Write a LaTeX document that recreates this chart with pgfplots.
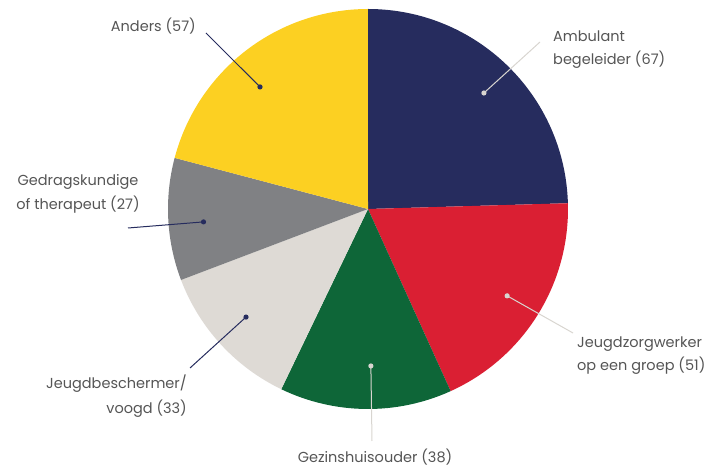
\documentclass[border=0pt]{standalone}
\usepackage{pgfplots}
\pgfplotsset{compat=1.18}
\usepackage{pgfplotstable}
\usepackage{fontspec}
\setmainfont{Poppins}
\definecolor{c0}{HTML}{262C5E}
\definecolor{c1}{HTML}{DA1F33}
\definecolor{c2}{HTML}{0E6638}
\definecolor{c3}{HTML}{DEDAD5}
\definecolor{c4}{HTML}{808184}
\definecolor{c5}{HTML}{FCD022}
\definecolor{txt}{HTML}{555555}
\definecolor{lightln}{HTML}{D8D5D0}
\definecolor{darkln}{HTML}{262C5E}

\pgfplotstableread{
idx value
0 67
1 51
2 38
3 33
4 27
5 57
}\piedata

\newcommand\pieWedge[2]{\fill[#2] (axis cs:368,262) -- ++(\csname ps#1\endcsname:200pt) arc[start angle=\csname ps#1\endcsname, end angle=\csname pe#1\endcsname, radius=200pt] -- cycle;}
% #1 slice, #2 #3 line end, #4 colour, #5 angle offset, #6 radius
\newcommand\pieLeader[6]{%
  \draw[#4, line width=1pt] (axis cs:368,262) ++(\csname pm#1\endcsname+#5:#6pt) -- (axis cs:#2,#3);
  \fill[#4] (axis cs:368,262) ++(\csname pm#1\endcsname+#5:#6pt) circle[radius=2.6pt];}

\begin{document}
\begin{tikzpicture}
\def\pietot{0}
\pgfplotsforeachungrouped \i in {0,...,5}{%
  \pgfplotstablegetelem{\i}{value}\of\piedata
  \pgfmathsetmacro\pietot{\pietot+\pgfplotsretval}%
}
\def\pieang{90}
\pgfplotsforeachungrouped \i in {0,...,5}{%
  \pgfplotstablegetelem{\i}{value}\of\piedata
  \pgfmathsetmacro\pienext{\pieang-\pgfplotsretval/\pietot*360}%
  \pgfmathsetmacro\piemid{(\pieang+\pienext)/2}%
  \expandafter\xdef\csname ps\i\endcsname{\pieang}%
  \expandafter\xdef\csname pe\i\endcsname{\pienext}%
  \expandafter\xdef\csname pm\i\endcsname{\piemid}%
  \global\let\pieang\pienext
}
\begin{axis}[x=1pt, y=1pt, xmin=0, xmax=713, ymin=0, ymax=471,
  hide axis, clip=false]
\path (axis cs:0,0) rectangle (axis cs:713,471);
\pieWedge{0}{c0}
\pieWedge{1}{c1}
\pieWedge{2}{c2}
\pieWedge{3}{c3}
\pieWedge{4}{c4}
\pieWedge{5}{c5}
\pieLeader{0}{540}{429}{lightln}{-0.8}{164}
\pieLeader{1}{573}{138}{lightln}{0}{164}
\pieLeader{2}{372}{30}{lightln}{1.7}{157}
\pieLeader{3}{190}{103}{darkln}{-1}{163}
\pieLeader{4}{128}{243}{darkln}{1.5}{165}
\pieLeader{5}{206}{438}{darkln}{3.9}{163}
\tikzset{lbl/.style={font=\fontsize{14.5}{17}\selectfont, text=txt, inner sep=0pt}}
\node[lbl, anchor=base east] at (axis cs:196,439) {Anders (57)};
\node[lbl, anchor=base west] at (axis cs:553,429) {Ambulant};
\node[lbl, anchor=base west] at (axis cs:553,406) {begeleider (67)};
\node[lbl, anchor=base] at (axis cs:78,285) {Gedragskundige};
\node[lbl, anchor=base] at (axis cs:78,261) {of therapeut (27)};
\node[lbl, anchor=base east] at (axis cs:187,82) {Jeugdbeschermer/};
\node[lbl, anchor=base east] at (axis cs:187,57) {voogd (33)};
\node[lbl, anchor=base] at (axis cs:375,8) {Gezinshuisouder (38)};
\node[lbl, anchor=base west] at (axis cs:577,123) {Jeugdzorgwerker};
\node[lbl, anchor=base west] at (axis cs:577,100) {op een groep (51)};
\end{axis}
\end{tikzpicture}
\end{document}
